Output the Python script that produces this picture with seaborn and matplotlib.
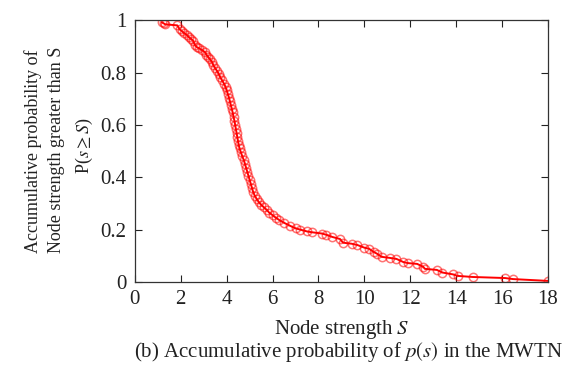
import numpy as np
import pandas as pd
import seaborn as sns
import matplotlib
matplotlib.use("Agg")
import matplotlib.pyplot as plt

# node strength S and cumulative probability P(s>=S)
strength = [1.17, 1.25, 1.32, 1.85, 1.95, 2.05, 2.15, 2.27, 2.35, 2.45,
            2.53, 2.62, 2.70, 2.80, 2.92, 3.05, 3.12, 3.20, 3.28, 3.36,
            3.42, 3.50, 3.58, 3.65, 3.72, 3.80, 3.88, 3.95, 4.00, 4.05,
            4.10, 4.14, 4.18, 4.22, 4.26, 4.30, 4.34, 4.37, 4.40, 4.43,
            4.46, 4.49, 4.52, 4.56, 4.62, 4.68, 4.75, 4.80, 4.85, 4.90,
            4.95, 5.00, 5.05, 5.10, 5.15, 5.22, 5.30, 5.40, 5.50, 5.62,
            5.75, 5.85, 6.00, 6.15, 6.30, 6.50, 6.75, 7.00, 7.20, 7.50,
            7.70, 8.15, 8.35, 8.60, 8.94, 9.07, 9.45, 9.70, 10.00, 10.20,
            10.40, 10.55, 10.75, 11.10, 11.40, 11.70, 11.90, 12.30, 12.56, 12.64,
            13.16, 13.40, 13.86, 14.08, 14.73, 16.13, 16.48, 18.00]
prob = [0.992, 0.988, 0.984, 0.980, 0.965, 0.958, 0.950, 0.943, 0.935, 0.928,
        0.922, 0.905, 0.897, 0.892, 0.886, 0.878, 0.868, 0.858, 0.850, 0.840,
        0.828, 0.816, 0.806, 0.795, 0.782, 0.770, 0.758, 0.745, 0.732, 0.718,
        0.704, 0.690, 0.676, 0.662, 0.648, 0.630, 0.615, 0.600, 0.585, 0.570,
        0.555, 0.540, 0.525, 0.510, 0.495, 0.480, 0.465, 0.450, 0.435, 0.420,
        0.405, 0.390, 0.375, 0.360, 0.345, 0.330, 0.318, 0.305, 0.295, 0.285,
        0.275, 0.265, 0.255, 0.245, 0.236, 0.226, 0.215, 0.205, 0.200, 0.193,
        0.190, 0.185, 0.180, 0.172, 0.164, 0.150, 0.146, 0.141, 0.131, 0.127,
        0.115, 0.108, 0.096, 0.092, 0.088, 0.076, 0.072, 0.069, 0.058, 0.050,
        0.046, 0.036, 0.029, 0.023, 0.019, 0.015, 0.011, 0.004]

x_ticks = [0, 2, 4, 6, 8, 10, 12, 14, 16, 18]
y_ticks = [0, 0.2, 0.4, 0.6, 0.8, 1]
y_tick_labels = ["0", "0.2", "0.4", "0.6", "0.8", "1"]

df = pd.DataFrame({"S": strength, "P": prob})

sns.set_style("ticks")
plt.rcParams["font.family"] = ["Liberation Serif", "DejaVu Serif"]
plt.rcParams["mathtext.fontset"] = "stix"

fig = plt.figure(figsize=(5.62, 3.8), dpi=100)
ax = fig.add_axes([0.240, 0.258, 0.735, 0.689])

sns.lineplot(data=df, x="S", y="P", ax=ax, color="red", linewidth=1.4,
             marker="o", markersize=6, markerfacecolor="none",
             markeredgecolor=(1, 0, 0, 0.55), markeredgewidth=1.1)

ax.set_xlim(0, 18)
ax.set_ylim(0, 1)
ax.set_xticks(x_ticks)
ax.set_xticklabels([str(t) for t in x_ticks])
ax.set_yticks(y_ticks)
ax.set_yticklabels(y_tick_labels)
ax.tick_params(direction="in", length=5, width=0.8, top=True, right=True,
               labelsize=15, colors="#222222", pad=6)
for s in ax.spines.values():
    s.set_visible(True)
    s.set_color("#333333")
    s.set_linewidth(0.9)

ax.set_xlabel("Node strength $S$", fontsize=15, color="#222222", labelpad=6)
ax.set_ylabel("")

# y label: two lines starting at the same place, third line centred
lab = dict(rotation=90, rotation_mode="anchor", fontsize=13, color="#222222")
fig.text(0.058, 0.334, "Accumulative probability of", ha="left", va="center", **lab)
fig.text(0.100, 0.334, "Node strength greater than S", ha="left", va="center", **lab)
fig.text(0.150, 0.616, "P($s\\geq S$)", ha="center", va="center", **lab)

fig.text(0.620, 0.075, "(b) Accumulative probability of $p(s)$ in the MWTN",
         ha="center", va="center", fontsize=15, color="#222222")

fig.savefig("out.png", dpi=100)
